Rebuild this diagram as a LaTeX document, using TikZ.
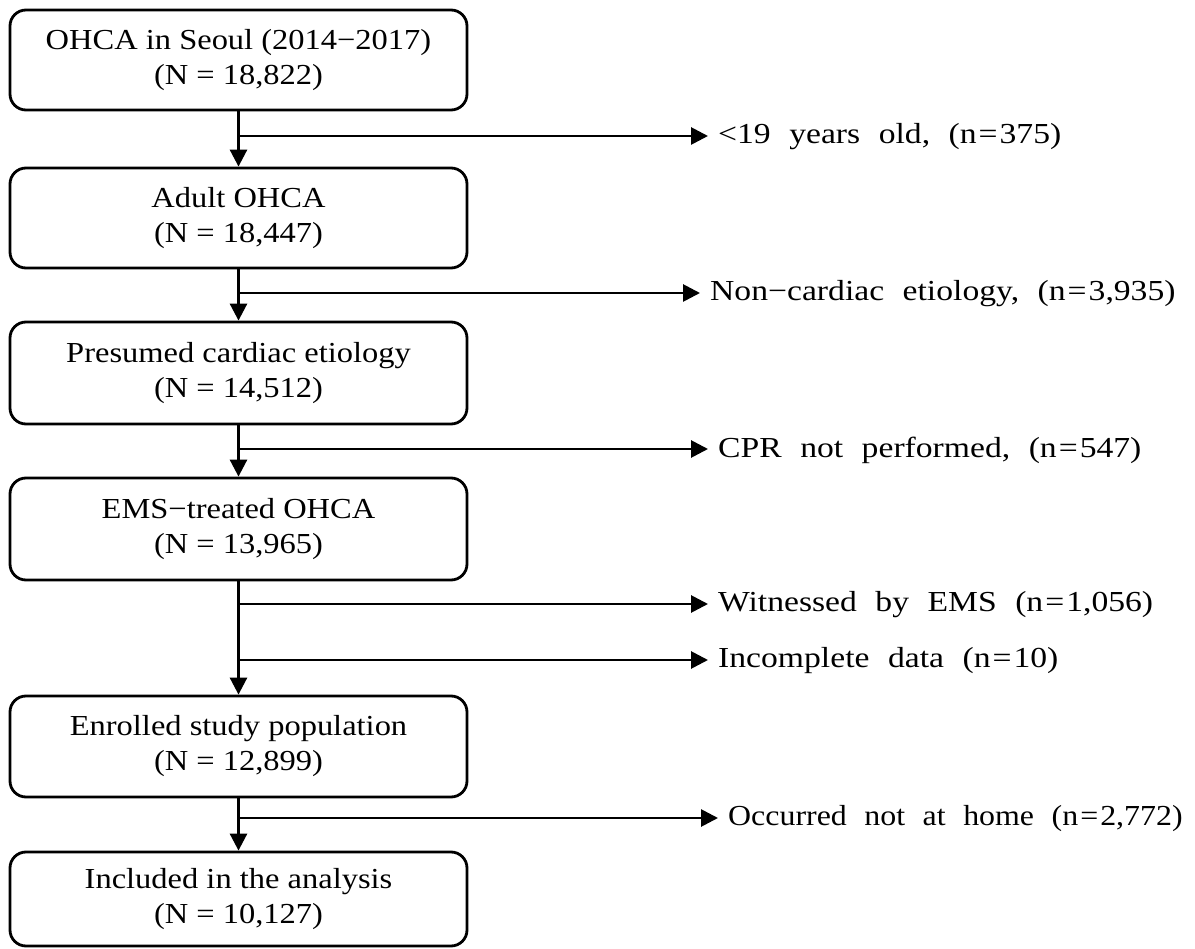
\documentclass[tikz,border=0pt]{standalone}
\usepackage{fontspec}
\setmainfont{Liberation Serif}[FakeStretch=1.12]
\newfontfamily\lblfont{Liberation Serif}[FakeStretch=1.16,WordSpace=2.2]
\newfontfamily\lblfontb{Liberation Serif}[FakeStretch=1.10,WordSpace=2.2]
\newcommand{\myeq}{\hspace{2pt}=\hspace{2pt}}
\usetikzlibrary{arrows.meta}
\begin{document}
\begin{tikzpicture}[x=1pt,y=-1pt,
  box/.style={draw,line width=2.8pt,rounded corners=16pt,minimum width=457pt,align=center,inner sep=0pt,font=\fontsize{29}{35}\selectfont},
  lbl/.style={anchor=west,inner sep=0pt,font=\lblfont\fontsize{29}{35}\selectfont},
  lblb/.style={anchor=west,inner sep=0pt,font=\lblfontb\fontsize{29}{35}\selectfont},
  arr/.style={line width=2.8pt,-{Triangle[width=17pt,length=17pt]}}]
\useasboundingbox (0,0) rectangle (1195,949);
\node[box,minimum height=100pt] (n1) at (238.5,60) {OHCA in Seoul (2014−2017)\\(N = 18,822)};
\node[box,minimum height=100pt] (n2) at (238.5,218) {Adult OHCA\\(N = 18,447)};
\node[box,minimum height=102pt] (n3) at (238.5,373) {Presumed cardiac etiology\\(N = 14,512)};
\node[box,minimum height=102pt] (n4) at (238.5,529) {EMS−treated OHCA\\(N = 13,965)};
\node[box,minimum height=101pt] (n5) at (238.5,746.5) {Enrolled study population\\(N = 12,899)};
\node[box,minimum height=94pt] (n6) at (238.5,899) {Included in the analysis\\(N = 10,127)};
\coordinate (b1) at (238.5,136);
\coordinate (b2) at (238.5,293);
\coordinate (b3) at (238.5,449);
\coordinate (b4) at (238.5,604);
\coordinate (b5) at (238.5,660);
\coordinate (b6) at (238.5,818);
\coordinate (e1) at (708,136);
\coordinate (e2) at (700,293);
\coordinate (e3) at (708,449);
\coordinate (e4) at (708,604);
\coordinate (e5) at (708,660);
\coordinate (e6) at (718,818);
\node[lbl] (l1) at (718,137) {<19 years old, (n\myeq 375)};
\node[lbl] (l2) at (710,294) {Non−cardiac etiology, (n\myeq 3,935)};
\node[lbl] (l3) at (718,450) {CPR not performed, (n\myeq 547)};
\node[lbl] (l4) at (718,605) {Witnessed by EMS (n\myeq 1,056)};
\node[lbl] (l5) at (718,661) {Incomplete data (n\myeq 10)};
\node[lblb] (l6) at (728,819) {Occurred not at home (n\myeq 2,772)};
\draw[arr] (n1.south) -- (n2.north);
\draw[arr] (n2.south) -- (n3.north);
\draw[arr] (n3.south) -- (n4.north);
\draw[arr] (n4.south) -- (n5.north);
\draw[arr] (n5.south) -- (n6.north);
\foreach \i in {1,...,6} {\draw[arr] (b\i) -- (e\i);}
\end{tikzpicture}
\end{document}
